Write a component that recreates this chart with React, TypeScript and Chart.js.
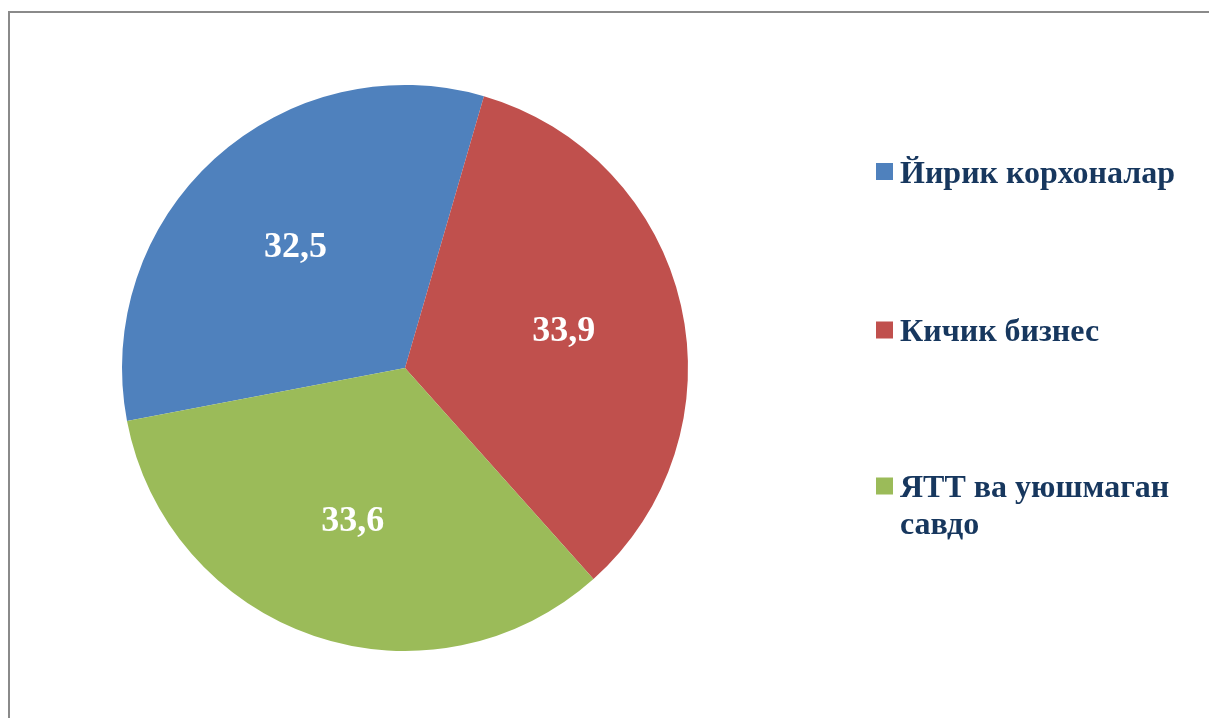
import React, { useEffect, useRef } from "react";
import { Chart, registerables } from "chart.js";

Chart.register(...registerables);

const categories = ["Йирик корхоналар", "Кичик бизнес", "ЯТТ ва уюшмаган савдо"];
const values = [32.5, 33.9, 33.6];
const valueLabels = ["32,5", "33,9", "33,6"];
const colors = ["#4F81BD", "#C0504D", "#9BBB59"];

const W = 1209;
const H = 718;
const FONT = '"Liberation Serif", "Times New Roman", serif';
const TEXT_COLOR = "#17375E";

const framePlugin = {
  id: "frame",
  beforeDraw(chart: any) {
    const ctx = chart.ctx;
    ctx.save();
    ctx.fillStyle = "#ffffff";
    ctx.fillRect(0, 0, W, H);
    ctx.strokeStyle = "#8a8a8a";
    ctx.lineWidth = 2;
    ctx.beginPath();
    ctx.moveTo(9, H);
    ctx.lineTo(9, 12);
    ctx.lineTo(W, 12);
    ctx.stroke();
    ctx.restore();
  },
};

const labelsPlugin = {
  id: "sliceLabels",
  afterDatasetsDraw(chart: any) {
    const ctx = chart.ctx;
    const meta = chart.getDatasetMeta(0);
    ctx.save();
    ctx.font = `bold 36px ${FONT}`;
    ctx.fillStyle = "#ffffff";
    ctx.textAlign = "center";
    ctx.textBaseline = "middle";
    meta.data.forEach((arc: any, i: number) => {
      const { x, y, startAngle, endAngle, outerRadius } = arc.getProps(
        ["x", "y", "startAngle", "endAngle", "outerRadius"],
        true
      );
      const mid = (startAngle + endAngle) / 2;
      const r = outerRadius * 0.575;
      ctx.fillText(valueLabels[i], x + Math.cos(mid) * r, y + Math.sin(mid) * r);
    });
    ctx.restore();
  },
};

function wrap(ctx: CanvasRenderingContext2D, text: string, maxW: number): string[] {
  const words = text.split(" ");
  const lines: string[] = [];
  let cur = "";
  for (const w of words) {
    const t = cur ? cur + " " + w : w;
    if (ctx.measureText(t).width > maxW && cur) {
      lines.push(cur);
      cur = w;
    } else cur = t;
  }
  if (cur) lines.push(cur);
  return lines;
}

const legendPlugin = {
  id: "customLegend",
  afterDraw(chart: any) {
    const ctx = chart.ctx;
    const labels = chart.data.labels as string[];
    const bg = chart.data.datasets[0].backgroundColor as string[];
    const centers = [171.5, 330, 486];
    ctx.save();
    ctx.font = `bold 32px ${FONT}`;
    ctx.textAlign = "left";
    ctx.textBaseline = "alphabetic";
    labels.forEach((lab, i) => {
      const cy = centers[i];
      ctx.fillStyle = bg[i];
      ctx.fillRect(876, cy - 8.5, 17, 17);
      ctx.fillStyle = TEXT_COLOR;
      const lines = wrap(ctx, lab, 300);
      lines.forEach((ln, j) => {
        ctx.fillText(ln, 900, cy + 11 + j * 37);
      });
    });
    ctx.restore();
  },
};

export default function App() {
  const ref = useRef<HTMLCanvasElement>(null);
  useEffect(() => {
    if (!ref.current) return;
    const chart = new Chart(ref.current, {
      type: "pie",
      data: {
        labels: categories,
        datasets: [
          {
            data: values,
            backgroundColor: colors,
            borderWidth: 0,
          },
        ],
      },
      options: {
        responsive: false,
        animation: false,
        rotation: 259.2,
        layout: { padding: { left: 122, right: 521, top: 85, bottom: 67 } },
        plugins: {
          legend: { display: false },
          tooltip: { enabled: false },
        },
      },
      plugins: [framePlugin, labelsPlugin, legendPlugin],
    });
    return () => chart.destroy();
  }, []);
  return (
    <div style={{ position: "fixed", left: 0, top: 0, width: W, height: H, background: "#fff" }}>
      <canvas ref={ref} width={W} height={H} style={{ display: "block" }} />
    </div>
  );
}
